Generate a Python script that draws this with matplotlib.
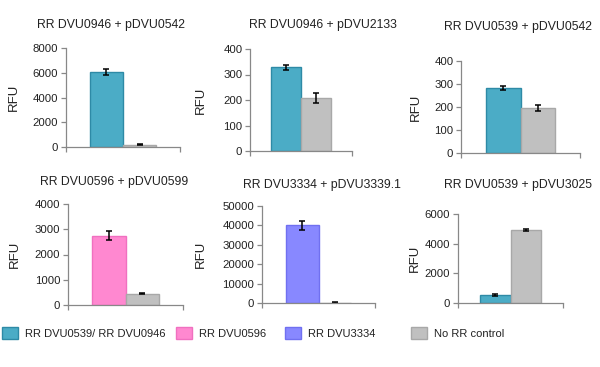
import matplotlib
matplotlib.use('Agg')
import matplotlib.pyplot as plt
from matplotlib.patches import Patch

plt.rcParams['font.family'] = ['Liberation Sans', 'DejaVu Sans']

# data per panel
titles = ['RR DVU0946 + pDVU0542', 'RR DVU0946 + pDVU2133', 'RR DVU0539 + pDVU0542',
          'RR DVU0596 + pDVU0599', 'RR DVU3334 + pDVU3339.1', 'RR DVU0539 + pDVU3025']
rr_kind = ['teal', 'teal', 'teal', 'pink', 'purple', 'teal']
rr_vals = [6050, 328, 283, 2750, 40000, 560]
rr_errs = [250, 10, 10, 170, 2300, 60]
ctl_vals = [200, 207, 196, 440, 200, 4930]
ctl_errs = [30, 20, 12, 20, 60, 50]
y_max = [8000, 400, 400, 4000, 50000, 6000]
y_step = [2000, 100, 100, 1000, 10000, 2000]

legend_labels = ['RR DVU0539/ RR DVU0946', 'RR DVU0596', 'RR DVU3334', 'No RR control']

colors = {'teal': ('#4bacc6', '#2e8aa6'), 'pink': ('#ff88d0', '#f070c0'),
          'purple': ('#8888ff', '#7070f0'), 'gray': ('#c0c0c0', '#a8a8a8')}

# pixel boxes: left, right, top, bottom ; title centre ; ylabel right edge
boxes = [(66, 180, 48, 147), (250, 352, 49, 151), (461, 580, 61, 153),
         (68, 183, 204, 305), (262, 375, 206, 303), (458, 563, 214, 303)]
title_pos = [(111, 25), (323, 25), (518, 27), (114, 182), (322, 185), (518, 185)]
ylab_x = [20, 207, 422, 21, 207, 421]

W, H = 600, 367
fig = plt.figure(figsize=(6, 3.67), dpi=100)

for i in range(6):
    l, r, t, b = boxes[i]
    ax = fig.add_axes([l / W, 1 - b / H, (r - l) / W, (b - t) / H])
    fc, ec = colors[rr_kind[i]]
    gfc, gec = colors['gray']
    ax.bar([0.355], [rr_vals[i]], width=0.29, color=fc, edgecolor=ec, linewidth=1)
    ax.bar([0.645], [ctl_vals[i]], width=0.29, color=gfc, edgecolor=gec, linewidth=1)
    ax.errorbar([0.355, 0.645], [rr_vals[i], ctl_vals[i]], yerr=[rr_errs[i], ctl_errs[i]],
                fmt='none', ecolor='black', elinewidth=1.1, capsize=2.5, capthick=1.1)
    ax.set_xlim(0, 1)
    ax.set_ylim(0, y_max[i])
    ax.set_yticks(range(0, y_max[i] + 1, y_step[i]))
    ax.set_xticks([0, 1])
    ax.set_xticklabels([])
    for s in ['top', 'right']:
        ax.spines[s].set_visible(False)
    for s in ['left', 'bottom']:
        ax.spines[s].set_color('#888888')
        ax.spines[s].set_linewidth(0.9)
    ax.spines['bottom'].set_zorder(5)
    ax.tick_params(axis='both', direction='out', length=3.5, width=0.9, color='#888888',
                   labelsize=8.2, labelcolor='#222222', pad=2)
    ax.set_ylabel('RFU', fontsize=9.5, color='#222222')
    ax.yaxis.set_label_coords((ylab_x[i] - l) / (r - l), 0.5)
    tx, ty = title_pos[i]
    fig.text(tx / W, 1 - ty / H, titles[i], ha='center', va='center', fontsize=8.8,
             color='#222222')

leg_keys = ['teal', 'pink', 'purple', 'gray']
leg_x = [2, 176, 285, 411]
for k, lab, x in zip(leg_keys, legend_labels, leg_x):
    h = Patch(facecolor=colors[k][0], edgecolor=colors[k][1], label=lab)
    fig.legend(handles=[h], loc='center left', bbox_to_anchor=(x / W, 1 - 333 / H),
               frameon=False, fontsize=8, handlelength=1.4, handleheight=1.4,
               handletextpad=0.7, borderpad=0, borderaxespad=0, labelcolor='#222222')

fig.savefig('out.png', dpi=100)
